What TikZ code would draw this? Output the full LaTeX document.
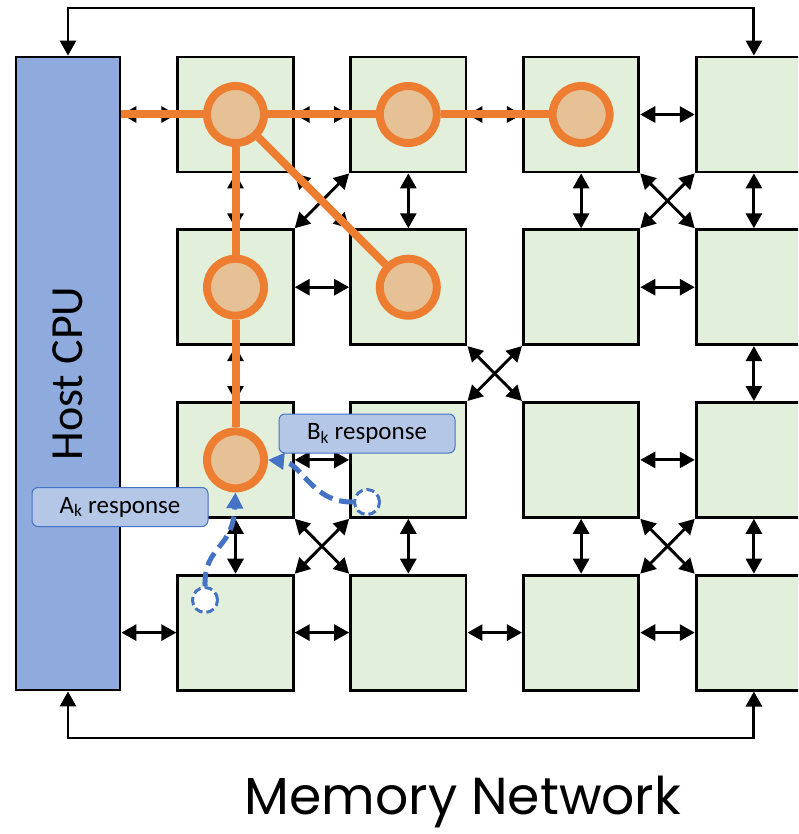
\documentclass[tikz,border=0pt]{standalone}
\usepackage{fontspec}
\setmainfont{Carlito}
\newfontfamily\titlefont{Poppins}
\usetikzlibrary{arrows.meta}
\definecolor{hostblue}{HTML}{8FAADC}
\definecolor{tilegreen}{HTML}{E2EFDA}
\definecolor{orangeline}{HTML}{ED7D31}
\definecolor{orangefill}{HTML}{E7C196}
\definecolor{labelfill}{HTML}{B4C7E7}
\definecolor{dashblue}{HTML}{4472C4}
\tikzset{
  tile/.style={draw=black, line width=2.8pt, fill=tilegreen, minimum width=115.5pt, minimum height=115pt, inner sep=0pt},
  hostbox/.style={draw=black, line width=2.8pt, fill=hostblue, minimum width=104pt, minimum height=633pt, inner sep=0pt},
  biarrow/.style={line width=2.9pt, {Triangle[length=15pt,width=16pt]}-{Triangle[length=15pt,width=16pt]}},
  oline/.style={draw=orangeline, line width=8pt},
  ocirc/.style={circle, draw=orangeline, fill=orangefill, line width=8pt, minimum size=57pt, inner sep=0pt},
  lbl/.style={draw=dashblue, line width=1pt, fill=labelfill, rounded corners=6pt, minimum width=176pt, minimum height=39pt, inner sep=0pt, font=\fontsize{25}{29}\selectfont},
  dcirc/.style={circle, draw=dashblue, fill=white, line width=3pt, dash pattern=on 8pt off 4pt, minimum size=25pt, inner sep=0pt},
  dline/.style={draw=dashblue, line width=5pt, dash pattern=on 14pt off 7pt, -{Triangle[length=16pt,width=16pt]}}
}
\begin{document}
\begin{tikzpicture}[x=1pt,y=-1pt]
\useasboundingbox (0,0) rectangle (798,834);
\clip (0,0) rectangle (798,834);
% host and tiles
\node[hostbox] (host) at (68,373.5) {};
\node[rotate=90, font=\fontsize{46}{50}\selectfont] (hostlabel) at (host) {Host CPU};
\foreach \c in {1,...,4} {
  \foreach \r in {1,...,4} {
    \node[tile] (t\c\r) at ({235.5+172.8*(\c-1)}, {114.5+172.7*(\r-1)}) {};
  }
}
% feedback loops
\coordinate (topy) at (0,8);
\coordinate (boty) at (0,738);
\draw[biarrow]
  (host.north) -- (host.north |- topy) -- (t41.north |- topy) -- (t41.north);
\draw[biarrow]
  (host.south) -- (host.south |- boty) -- (t44.south |- boty) -- (t44.south);
% host links
\draw[biarrow] (host.east |- t11.west) -- (t11.west);
\draw[biarrow] (host.east |- t14.west) -- (t14.west);
% horizontal links
\foreach \c/\r in {1/1,2/1,3/1,1/2,3/2,1/3,3/3,1/4,2/4,3/4} {
  \pgfmathtruncatemacro\n{\c+1}
  \draw[biarrow] (t\c\r.east) -- (t\n\r.west);
}
% vertical links
\foreach \c/\r in {1/1,2/1,3/1,4/1,1/2,4/2,1/3,2/3,3/3,4/3} {
  \pgfmathtruncatemacro\n{\r+1}
  \draw[biarrow] (t\c\r.south) -- (t\c\n.north);
}
% diagonal links
\foreach \c/\r in {1/1,3/1,2/2,1/3,3/3} {
  \pgfmathtruncatemacro\n{\c+1}
  \pgfmathtruncatemacro\m{\r+1}
  \draw[biarrow] (t\c\r.south east) -- (t\n\m.north west);
  \draw[biarrow] (t\n\r.south west) -- (t\c\m.north east);
}
% orange circles
\node[ocirc] (c11) at (t11) {};
\node[ocirc] (c21) at (t21) {};
\node[ocirc] (c31) at (t31) {};
\node[ocirc] (c12) at (t12) {};
\node[ocirc] (c22) at (t22) {};
\node[ocirc] (c13) at (t13) {};
% orange lines
\draw[oline] (host.east |- c11) -- (c11);
\draw[oline] (c11) -- (c21);
\draw[oline] (c21) -- (c31);
\draw[oline] (c11) -- (c12);
\draw[oline] (c12) -- (c13);
\draw[oline] (c11) -- (c22);
% labels
\node[lbl] (bk) at (367,433.5) {B\textsubscript{k} response};
\node[lbl] (ak) at (120,507) {A\textsubscript{k} response};
% dashed responses
\node[dcirc] (da) at (205,600) {};
\node[dcirc] (db) at (367,502) {};
\draw[dline] (da.north) .. controls (204,545) and (233,550) .. (c13.south);
\draw[dline] (db.west) .. controls (312,503) and (302,463) .. (c13.east);
% title
\node[anchor=base, font=\titlefont\fontsize{52}{58}\selectfont, inner sep=0pt] (title) at (463,814) {Memory Network};
\end{tikzpicture}
\end{document}
